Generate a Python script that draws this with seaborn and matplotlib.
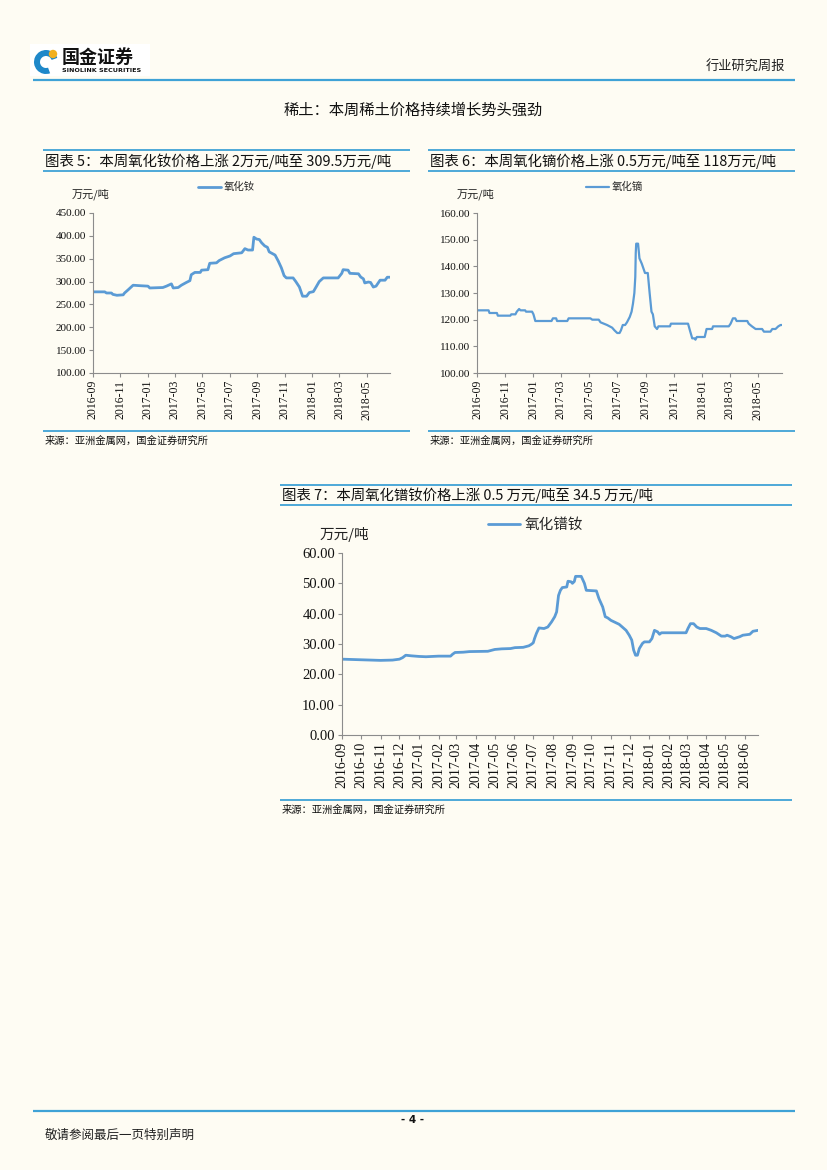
import pandas as pd
import numpy as np
import matplotlib
matplotlib.use("Agg")
import matplotlib.pyplot as plt
import matplotlib.dates as mdates
from matplotlib.patches import Rectangle, Wedge, Circle
import seaborn as sns

# ---- data ----
nd_dates = ['2016-09-01', '2016-09-27', '2016-10-01', '2016-10-12', '2016-10-15', '2016-10-24', '2016-11-07',
            '2016-11-10', '2016-11-18', '2016-11-29', '2016-12-14', '2017-01-01', '2017-01-05', '2017-02-03',
            '2017-02-11', '2017-02-22', '2017-02-26', '2017-03-09', '2017-03-16', '2017-03-27', '2017-04-04',
            '2017-04-07', '2017-04-15', '2017-04-27', '2017-04-30', '2017-05-14', '2017-05-18', '2017-06-02',
            '2017-06-08', '2017-06-20', '2017-07-02', '2017-07-10', '2017-07-28', '2017-08-04', '2017-08-11',
            '2017-08-21', '2017-08-24', '2017-08-30', '2017-09-05', '2017-09-10', '2017-09-17', '2017-09-23',
            '2017-09-27', '2017-10-10', '2017-10-17', '2017-10-24', '2017-10-30', '2017-11-04', '2017-11-19',
            '2017-11-25', '2017-12-03', '2017-12-10', '2017-12-19', '2017-12-25', '2018-01-03', '2018-01-09',
            '2018-01-16', '2018-01-25', '2018-02-27', '2018-03-07', '2018-03-10', '2018-03-21', '2018-03-25',
            '2018-04-13', '2018-04-18', '2018-04-24', '2018-04-27', '2018-05-05', '2018-05-10', '2018-05-16',
            '2018-05-22', '2018-05-31', '2018-06-11', '2018-06-16', '2018-06-22']
nd_vals = [277.5, 277.5, 275, 275, 272, 270, 271, 275, 282, 292, 291, 290, 286, 287, 290, 295, 286, 287, 292,
           298, 302, 315, 320, 320, 325, 326, 340, 341, 346, 352, 356, 361, 363, 372, 369, 369, 397, 393, 392,
           385, 378, 375, 365, 358, 345, 330, 313, 308, 308, 300, 288, 268, 268, 276, 278, 288, 300, 308, 308,
           318, 326, 325, 318, 317, 310, 306, 297, 299, 298, 288, 290, 303, 303, 309.5, 309.5]

dy_dates = ['2016-09-01', '2016-09-26', '2016-09-28', '2016-10-14', '2016-10-16', '2016-11-12', '2016-11-14',
            '2016-11-23', '2016-11-26', '2016-12-01', '2016-12-04', '2016-12-14', '2016-12-16', '2016-12-29',
            '2017-01-01', '2017-01-05', '2017-02-09', '2017-02-12', '2017-02-19', '2017-02-21', '2017-03-15',
            '2017-03-18', '2017-05-04', '2017-05-08', '2017-05-22', '2017-05-26', '2017-06-02', '2017-06-09',
            '2017-06-20', '2017-06-25', '2017-06-28', '2017-07-01', '2017-07-06', '2017-07-09', '2017-07-13',
            '2017-07-18', '2017-07-22', '2017-07-28', '2017-08-01', '2017-08-04', '2017-08-07', '2017-08-09',
            '2017-08-10', '2017-08-11', '2017-08-15', '2017-08-18', '2017-08-23', '2017-08-27', '2017-08-30',
            '2017-09-05', '2017-09-09', '2017-09-13', '2017-09-16', '2017-09-20', '2017-09-25', '2017-09-28',
            '2017-10-23', '2017-10-25', '2017-12-01', '2017-12-05', '2017-12-10', '2017-12-15', '2017-12-17',
            '2017-12-20', '2018-01-06', '2018-01-10', '2018-01-22', '2018-01-24', '2018-02-27', '2018-03-03',
            '2018-03-08', '2018-03-13', '2018-03-16', '2018-04-08', '2018-04-11', '2018-04-18', '2018-04-26',
            '2018-05-10', '2018-05-14', '2018-05-28', '2018-06-01', '2018-06-08', '2018-06-14', '2018-06-19',
            '2018-06-22']
dy_vals = [123.5, 123.5, 122.5, 122.5, 121.5, 121.5, 122, 122, 123, 124, 123.5, 123.5, 123, 123, 122, 119.5,
           119.5, 120.5, 120.5, 119.5, 119.5, 120.5, 120.5, 120, 120, 119, 118.5, 118, 117, 116, 115.5, 115, 115,
           116, 118, 118, 119, 121, 123, 126, 130, 136, 145, 148.5, 148.5, 143, 141, 139, 137.5, 137.5, 130, 123,
           122, 117.5, 116.5, 117.5, 117.5, 118.5, 118.5, 116, 113, 113, 112.5, 113.5, 113.5, 116.5, 116.5, 117.5,
           117.5, 118.5, 120.5, 120.5, 119.5, 119.5, 118.5, 117.5, 116.5, 116.5, 115.5, 115.5, 116.5, 116.5,
           117.5, 118, 118]

prnd_dates = ['2016-09-01', '2016-10-01', '2016-11-01', '2016-11-20', '2016-12-01', '2016-12-06', '2016-12-11',
              '2016-12-20', '2017-01-01', '2017-01-12', '2017-02-01', '2017-02-20', '2017-02-23', '2017-02-27',
              '2017-03-12', '2017-03-22', '2017-04-20', '2017-05-01', '2017-05-12', '2017-05-26', '2017-06-02',
              '2017-06-15', '2017-06-24', '2017-06-28', '2017-07-01', '2017-07-03', '2017-07-06', '2017-07-10',
              '2017-07-18', '2017-07-24', '2017-07-30', '2017-08-04', '2017-08-07', '2017-08-10', '2017-08-13',
              '2017-08-16', '2017-08-23', '2017-08-25', '2017-08-30', '2017-09-01', '2017-09-04', '2017-09-06',
              '2017-09-15', '2017-09-20', '2017-09-23', '2017-10-09', '2017-10-13', '2017-10-19', '2017-10-23',
              '2017-10-27', '2017-11-01', '2017-11-09', '2017-11-14', '2017-11-19', '2017-11-25', '2017-11-30',
              '2017-12-04', '2017-12-07', '2017-12-10', '2017-12-13', '2017-12-16', '2017-12-21', '2017-12-24',
              '2018-01-01', '2018-01-05', '2018-01-09', '2018-01-14', '2018-01-17', '2018-01-20', '2018-02-28',
              '2018-03-03', '2018-03-07', '2018-03-12', '2018-03-17', '2018-03-22', '2018-04-01', '2018-04-09',
              '2018-04-17', '2018-04-25', '2018-05-01', '2018-05-04', '2018-05-10', '2018-05-15', '2018-05-24',
              '2018-05-29', '2018-06-09', '2018-06-14', '2018-06-22']
prnd_vals = [25.0, 24.8, 24.6, 24.7, 25.0, 25.5, 26.3, 26.1, 25.9, 25.8, 26.0, 26.0, 26.6, 27.2, 27.3, 27.5,
             27.6, 28.2, 28.4, 28.5, 28.8, 28.9, 29.4, 29.9, 30.4, 31.8, 33.5, 35.3, 35.1, 35.6, 37.3, 39.0, 40.6,
             46.0, 47.7, 48.6, 48.8, 50.7, 50.5, 50.0, 50.6, 52.3, 52.3, 50.0, 47.7, 47.5, 45.0, 42.2, 39.0, 38.6,
             37.8, 37.0, 36.5, 35.6, 34.5, 32.9, 31.3, 28.0, 26.3, 26.3, 28.5, 30.2, 30.7, 30.7, 31.8, 34.5, 34.0,
             33.2, 33.7, 33.7, 35.1, 36.7, 36.7, 35.6, 35.1, 35.1, 34.5, 33.7, 32.6, 32.6, 32.9, 32.4, 31.8, 32.4,
             32.9, 33.2, 34.2, 34.5]

# ---- page setup ----
W, H = 827, 1170
BG = '#FEFCF3'
LINE = '#5B9BD5'
RULE = '#3FA2D6'
AXC = '#8C8C8C'
CJK = ['Noto Sans CJK SC', 'DejaVu Sans']

sns.set_style('ticks')
plt.rcParams['font.family'] = ['Liberation Serif', 'Noto Sans CJK SC', 'DejaVu Sans']
plt.rcParams['axes.unicode_minus'] = False

fig = plt.figure(figsize=(W / 100, H / 100), dpi=100)
fig.patch.set_facecolor(BG)

# page layer in pixel coordinates
pg = fig.add_axes([0, 0, 1, 1])
pg.set_xlim(0, W)
pg.set_ylim(H, 0)
pg.axis('off')
pg.set_facecolor('none')


def rule(x0, x1, y, lw=1.3):
    pg.plot([x0, x1], [y, y], color=RULE, lw=lw, solid_capstyle='butt')


def txt(x, y, s, size, ha='left', **kw):
    pg.text(x, y, s, fontsize=size, family=kw.pop('family', CJK), ha=ha, va='center',
            color=kw.pop('color', '#111111'), **kw)


# header with logo
pg.add_patch(Rectangle((30, 44), 120, 32, facecolor='white', edgecolor='none'))
pg.add_patch(Wedge((46, 62), 12, 70, 340, width=6, facecolor='#1E88C9', edgecolor='none'))
pg.add_patch(Circle((53, 54), 4.2, facecolor='#F2B01E', edgecolor='none'))
txt(62, 57, '国金证券', 13, fontweight='bold')
txt(62, 71, 'SINOLINK SECURITIES', 4.6, family=['DejaVu Sans'], fontweight='bold')
txt(785, 67, '行业研究周报', 9.5, ha='right', color='#222222')
rule(33, 795, 80, lw=1.6)

txt(413, 110, '稀土：本周稀土价格持续增长势头强劲', 11, ha='center')

# captions and rules
SRC = '来源：亚洲金属网，国金证券研究所'
rule(43, 410, 150)
rule(43, 410, 171)
txt(45, 161, '图表 5：本周氧化钕价格上涨 2万元/吨至 309.5万元/吨', 10.4)
rule(428, 795, 150)
rule(428, 795, 171)
txt(430, 161, '图表 6：本周氧化镝价格上涨 0.5万元/吨至 118万元/吨', 10.4)
rule(43, 410, 431)
rule(428, 795, 431)
txt(45, 441, SRC, 7.4)
txt(430, 441, SRC, 7.4)

rule(280, 792, 485)
rule(280, 792, 505)
txt(282, 495, '图表 7：本周氧化镨钕价格上涨 0.5 万元/吨至 34.5 万元/吨', 10.4)
rule(280, 792, 800)
txt(282, 810, SRC, 7.4)

# unit labels
txt(72, 194, '万元/吨', 8, color='#222222')
txt(457, 194, '万元/吨', 8, color='#222222')
txt(320, 535, '万元/吨', 10.5, color='#222222')

# footer
rule(33, 795, 1111, lw=1.6)
txt(413, 1120, '- 4 -', 7.5, ha='center', family=['DejaVu Sans'], fontweight='bold')
txt(45, 1135, '敬请参阅最后一页特别声明', 9, color='#222222')


def chart(box, dates, vals, name, yticks, months, lw, tsize, xsize, lsize, leg_x, leg_y):
    x0, y0, x1, y1 = box
    ax = fig.add_axes([x0 / W, 1 - y1 / H, (x1 - x0) / W, (y1 - y0) / H])
    ax.set_facecolor('none')
    df = pd.DataFrame({'date': pd.to_datetime(dates), 'price': vals})
    sns.lineplot(data=df, x='date', y='price', ax=ax, color=LINE, linewidth=lw, label=name)
    ax.set_xlim(pd.Timestamp('2016-09-01'), pd.Timestamp('2018-06-22'))
    ax.set_ylim(yticks[0], yticks[-1])
    ax.set_yticks(yticks)
    ax.yaxis.set_major_formatter(matplotlib.ticker.FormatStrFormatter('%.2f'))
    ax.xaxis.set_major_locator(mdates.MonthLocator(bymonth=months))
    ax.xaxis.set_major_formatter(mdates.DateFormatter('%Y-%m'))
    ax.set_xlabel('')
    ax.set_ylabel('')
    for s in ['top', 'right']:
        ax.spines[s].set_visible(False)
    for s in ['left', 'bottom']:
        ax.spines[s].set_color(AXC)
        ax.spines[s].set_linewidth(0.8)
    ax.tick_params(axis='y', labelsize=tsize, length=3, width=0.8, color=AXC, pad=2, labelcolor='#111111')
    ax.tick_params(axis='x', labelsize=xsize, length=3, width=0.8, color=AXC, pad=2, labelcolor='#111111',
                   labelrotation=90)
    ax.legend(loc='center', bbox_to_anchor=(leg_x, leg_y), frameon=False, handlelength=2.2,
              handletextpad=0.3, prop={'family': CJK, 'size': lsize})
    return ax


chart((93, 213, 390, 373), nd_dates, nd_vals, '氧化钕', np.arange(100, 451, 50),
      [1, 3, 5, 7, 9, 11], 2.0, 8, 8.5, 7.5, 0.45, 1.16)
chart((477, 213, 782, 373), dy_dates, dy_vals, '氧化镝', np.arange(100, 161, 10),
      [1, 3, 5, 7, 9, 11], 1.6, 8, 8.5, 7.5, 0.45, 1.16)
chart((342, 553, 758, 735), prnd_dates, prnd_vals, '氧化镨钕', np.arange(0, 61, 10),
      list(range(1, 13)), 2.0, 10.5, 10, 10.5, 0.465, 1.155)

fig.savefig('out.png', dpi=100, facecolor=BG)
